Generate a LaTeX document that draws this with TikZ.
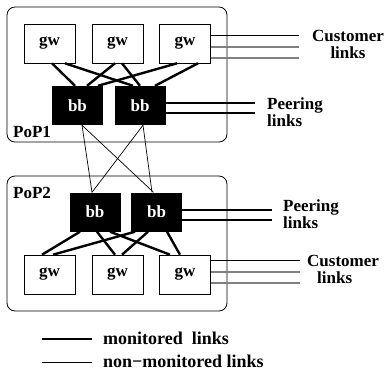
\documentclass[tikz,border=0pt]{standalone}
\usepackage{fontspec}
\setmainfont{Liberation Serif}
\usetikzlibrary{calc}
\begin{document}
\begin{tikzpicture}[x=1pt,y=-1pt,
  every node/.style={font=\fontsize{17}{17}\selectfont\bfseries},
  gwbox/.style={draw, line width=0.6pt, minimum width=51pt, minimum height=39pt, inner sep=0pt},
  bbbox/.style={fill=black, text=white, minimum width=51pt, minimum height=39pt, inner sep=0pt},
  popbox/.style={draw, line width=0.8pt, rounded corners=8pt, minimum width=220pt, minimum height=135pt, inner sep=0pt},
  mon/.style={line width=2.4pt},
  nonmon/.style={line width=0.7pt},
  custblk/.style={line width=0.9pt},
  custgry/.style={line width=1.1pt, gray},
  lbl/.style={inner sep=0pt},
  leg/.style={inner sep=0pt, font=\fontsize{18}{18}\selectfont\bfseries}
]
\useasboundingbox (0,0) rectangle (387,372);
% PoP boxes
\node[popbox] (pop1) at (117,74.5) {};
\node[popbox] (pop2) at (117,243.5) {};
\node[lbl, anchor=west] (pop1l) at (13,132) {PoP1};
\node[lbl, anchor=west] (pop2l) at (13,193) {PoP2};
% PoP1 nodes
\node[gwbox] (ga1) at (49.5,43.5) {gw};
\node[gwbox] (ga2) at (117.5,43.5) {gw};
\node[gwbox] (ga3) at (185,43.5) {gw};
\node[bbbox] (ba1) at (77.5,105.5) {bb};
\node[bbbox] (ba2) at (140,105.5) {bb};
% PoP2 nodes
\node[bbbox] (bc1) at (95,212) {bb};
\node[bbbox] (bc2) at (156.5,212) {bb};
\node[gwbox] (gc1) at (49.5,274.5) {gw};
\node[gwbox] (gc2) at (117.5,274.5) {gw};
\node[gwbox] (gc3) at (185,274.5) {gw};
% PoP1 monitored links
\draw[mon] ($(ga1.south)+(2.5,0)$) -- ($(ba1.north)+(-2.5,0)$);
\draw[mon] ($(ga1.south)+(15.5,0)$) -- ($(ba2.north)+(-7,0)$);
\draw[mon] ($(ga2.south)+(-2.5,0)$) -- ($(ba1.north)+(9.5,0)$);
\draw[mon] ($(ga2.south)+(4.5,0)$) -- ($(ba2.north)+(0,0)$);
\draw[mon] ($(ga3.south)+(-8,0)$) -- ($(ba1.north)+(20.5,0)$);
\draw[mon] ($(ga3.south)+(13,0)$) -- ($(ba2.north)+(15,0)$);
% PoP2 monitored links
\draw[mon] ($(bc1.south)+(-15,0)$) -- ($(gc1.north)+(-7.5,0)$);
\draw[mon] ($(bc1.south)+(2,0)$) -- ($(gc2.north)+(-2.5,0)$);
\draw[mon] ($(bc1.south)+(15,0)$) -- ($(gc3.north)+(-15,0)$);
\draw[mon] ($(bc2.south)+(-21.5,0)$) -- ($(gc1.north)+(3.5,0)$);
\draw[mon] ($(bc2.south)+(-8.5,0)$) -- ($(gc2.north)+(4.5,0)$);
\draw[mon] ($(bc2.south)+(10.5,0)$) -- ($(gc3.north)+(-5,0)$);
% inter-PoP links
\draw[nonmon] ($(ba1.south)+(4.5,0)$) -- ($(bc1.north)+(-3,0)$);
\draw[nonmon] ($(ba1.south)+(4.5,0)$) -- ($(bc2.north)+(-3,0)$);
\draw[nonmon] ($(ba2.south)+(3,0)$) -- ($(bc2.north)+(-4.5,0)$);
\draw[nonmon] ($(ba2.south)+(3,0)$) -- ($(bc1.north)+(-3,0)$);
% peering links
\coordinate (pa1) at (255,103);
\coordinate (pa2) at (255,113);
\coordinate (pc1) at (272,210);
\coordinate (pc2) at (272,220);
\draw[mon] (ba2.east |- pa1) -- (pa1);
\draw[mon] (ba2.east |- pa2) -- (pa2);
\draw[mon] (bc2.east |- pc1) -- (pc1);
\draw[mon] (bc2.east |- pc2) -- (pc2);
\node[lbl, anchor=west, align=left] (peera) at (267,112) {Peering\\links};
\node[lbl, anchor=west, align=left] (peerc) at (283,214) {Peering\\links};
% customer links
\coordinate (ca1) at (299,35);
\coordinate (ca2) at (299,47);
\coordinate (ca3) at (299,58);
\coordinate (cc1) at (300,260);
\coordinate (cc2) at (300,272);
\coordinate (cc3) at (300,283);
\draw[custblk] (ga3.east |- ca1) -- (ca1);
\draw[custgry] (ga3.east |- ca2) -- (ca2);
\draw[custgry] (ga3.east |- ca3) -- (ca3);
\draw[custblk] (gc3.east |- cc1) -- (cc1);
\draw[custgry] (gc3.east |- cc2) -- (cc2);
\draw[custgry] (gc3.east |- cc3) -- (cc3);
\node[lbl, align=center] (custa) at (348,44) {Customer\\links};
\node[lbl, anchor=west, align=left] (custc) at (307,269) {Customer\\\hspace*{10pt}links};
% legend
\coordinate (la1) at (42,339);
\coordinate (lb1) at (92,339);
\coordinate (la2) at (42,362);
\coordinate (lb2) at (92,362);
\draw[mon] (la1) -- (lb1);
\draw[nonmon] (la2) -- (lb2);
\node[leg, anchor=west] (legm) at (103,338) {monitored\ \ links};
\node[leg, anchor=west] (legn) at (103,361) {non\textminus monitored links};
\end{tikzpicture}
\end{document}
